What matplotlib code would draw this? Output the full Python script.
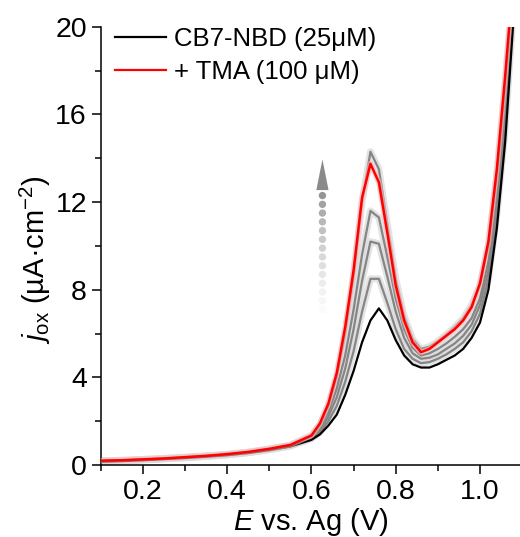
import matplotlib
matplotlib.use("Agg")
import matplotlib.pyplot as plt
import numpy as np

plt.rcParams['font.family'] = ['Liberation Sans', 'DejaVu Sans']
plt.rcParams['mathtext.fontset'] = 'custom'
plt.rcParams['mathtext.rm'] = 'Liberation Sans'
plt.rcParams['mathtext.it'] = 'Liberation Sans:italic'

# ---- data ----
E = [0.10, 0.15, 0.20, 0.25, 0.30, 0.35, 0.40, 0.45, 0.50, 0.55, 0.60, 0.62, 0.64, 0.66,
     0.68, 0.70, 0.72, 0.74, 0.76, 0.78, 0.80, 0.82, 0.84, 0.86, 0.88, 0.90, 0.92, 0.94,
     0.96, 0.98, 1.00, 1.02, 1.04, 1.06, 1.08]

black = [0.15, 0.18, 0.22, 0.27, 0.32, 0.38, 0.45, 0.55, 0.68, 0.85, 1.15, 1.4, 1.8, 2.3,
         3.2, 4.3, 5.6, 6.6, 7.15, 6.6, 5.7, 5.0, 4.6, 4.45, 4.45, 4.6, 4.8, 5.0,
         5.3, 5.8, 6.5, 8.0, 10.8, 14.8, 20.5]
gray1 = [0.16, 0.19, 0.23, 0.28, 0.33, 0.39, 0.46, 0.56, 0.70, 0.87, 1.2, 1.5, 2.0, 2.7,
         3.8, 5.2, 7.0, 8.5, 8.5, 7.4, 6.2, 5.3, 4.85, 4.65, 4.7, 4.85, 5.05, 5.3,
         5.6, 6.1, 6.9, 8.5, 11.4, 15.4, 21.0]
gray2 = [0.17, 0.20, 0.24, 0.29, 0.34, 0.40, 0.47, 0.57, 0.71, 0.88, 1.25, 1.6, 2.2, 3.1,
         4.4, 6.2, 8.4, 10.2, 10.1, 8.6, 7.0, 5.8, 5.1, 4.85, 4.9, 5.05, 5.3, 5.55,
         5.9, 6.4, 7.3, 8.9, 11.9, 15.9, 21.5]
gray3 = [0.18, 0.21, 0.25, 0.30, 0.35, 0.41, 0.48, 0.58, 0.72, 0.90, 1.3, 1.7, 2.4, 3.5,
         5.0, 7.1, 9.6, 11.6, 11.3, 9.5, 7.6, 6.2, 5.35, 5.0, 5.1, 5.3, 5.55, 5.85,
         6.2, 6.7, 7.6, 9.3, 12.3, 16.4, 22.0]
gray4 = [0.19, 0.22, 0.26, 0.30, 0.36, 0.42, 0.49, 0.59, 0.73, 0.91, 1.35, 1.85, 2.7, 4.0,
         6.0, 8.6, 12.0, 14.3, 13.5, 11.0, 8.5, 6.8, 5.75, 5.3, 5.4, 5.65, 5.95, 6.3,
         6.7, 7.3, 8.2, 10.0, 13.2, 17.4, 22.0]
red = [0.20, 0.22, 0.26, 0.30, 0.36, 0.42, 0.50, 0.60, 0.74, 0.92, 1.35, 1.9, 2.8, 4.2,
       6.3, 8.9, 12.2, 13.75, 12.9, 10.6, 8.2, 6.6, 5.6, 5.15, 5.3, 5.6, 5.9, 6.2,
       6.6, 7.2, 8.3, 10.2, 13.5, 17.8, 22.5]

labels = ['CB7-NBD (25\u03bcM)', '+ TMA (100 \u03bcM)']
xticks = [0.2, 0.4, 0.6, 0.8, 1.0]
yticks = [0, 4, 8, 12, 16, 20]

# ---- figure ----
fig = plt.figure(figsize=(5.2, 5.37), dpi=100)
ax = fig.add_axes([0.194, 0.134, 0.806, 0.816])

for g in [gray1, gray2, gray3, gray4]:
    ax.plot(E, g, color='#dcdcdc', lw=5, alpha=0.8, solid_capstyle='round', zorder=1)
for g in [gray1, gray2, gray3, gray4]:
    ax.plot(E, g, color='#858585', lw=1.6, zorder=2)
ax.plot(E, black, color='black', lw=1.6, zorder=3, label=labels[0])
ax.plot(E, red, color='#ffb8b8', lw=4, alpha=0.6, zorder=3.5)
ax.plot(E, red, color='#ff0000', lw=1.8, zorder=4, label=labels[1])

# gradient dotted arrow
xa = 0.626
ys = np.linspace(7.1, 12.3, 14)
cols = plt.cm.Greys(np.linspace(0.04, 0.5, len(ys)))
ax.scatter([xa] * len(ys), ys, s=28, c=cols, edgecolors='none', zorder=5)
hw = 0.0145
ax.fill([xa - hw, xa + hw, xa], [12.55, 12.55, 13.95], color='#8a8a8a', lw=0, zorder=5)

ax.set_xlim(0.1, 1.095)
ax.set_ylim(0, 20)
ax.set_xticks(xticks)
ax.set_xticklabels([f'{v:.1f}' for v in xticks])
ax.set_xticks([0.1, 0.3, 0.5, 0.7, 0.9], minor=True)
ax.set_yticks(yticks)
ax.set_yticks([2, 6, 10, 14, 18], minor=True)

for s in ['top', 'right']:
    ax.spines[s].set_visible(False)
for s in ['left', 'bottom']:
    ax.spines[s].set_linewidth(1.1)
ax.tick_params(which='major', direction='out', length=6.5, width=1.1, labelsize=20.5, pad=3.5)
ax.tick_params(which='minor', direction='out', length=4, width=1.1)

ax.set_xlabel(r'$E$ vs. Ag (V)', fontsize=21, labelpad=1)
ax.set_ylabel(r'$j_{\rm ox}$ (µA·cm$^{-2}$)', fontsize=21, labelpad=2)
ax.yaxis.label.set_y(0.47)

leg = ax.legend(loc='upper left', bbox_to_anchor=(-0.003, 1.035), frameon=False,
                fontsize=18.5, handlelength=2.0, handletextpad=0.3, labelspacing=0.35,
                borderaxespad=0.2)
for line in leg.get_lines():
    line.set_linewidth(1.6)

fig.savefig('out.png', dpi=100)
